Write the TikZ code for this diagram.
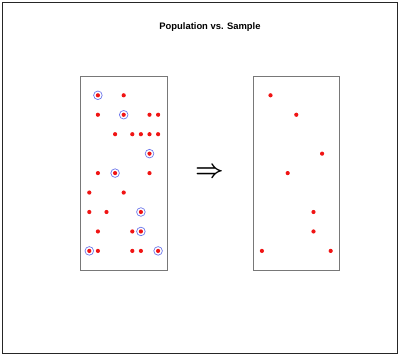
\documentclass[tikz,border=0pt]{standalone}
\usepackage{fontspec}
\setmainfont{Liberation Sans}
\usepackage{xcolor}
\usepackage{amsmath}
\usepackage{tikz}
\definecolor{dotred}{RGB}{240,20,20}
\definecolor{ringblue}{RGB}{110,120,235}
\definecolor{framegray}{RGB}{120,120,120}
\tikzset{
  reddot/.style={fill=dotred,draw=none},
  ring/.style={draw=ringblue,line width=0.7pt},
  panel/.style={draw=framegray,line width=0.8pt}
}
\begin{document}
\begin{tikzpicture}[x=1pt,y=-1pt]
             \useasboundingbox (0,0) rectangle (400,359);
             \draw[line width=1pt,draw=black!85] (2.5,2.5) rectangle (397,353);
             \node[draw=none,font=\fontsize{9.4}{11}\selectfont\bfseries] (title) at (210,27) {Population vs. Sample};

             % population and sample panels
             \draw[panel] (80.7,76) rectangle (167,270.7);
             \draw[panel] (253.3,76) rectangle (339.6,270.7);
             \node[draw=none,font=\fontsize{34}{36}\selectfont] (arrow) at (209.5,172.5) {$\boldsymbol{\Rightarrow}$};

             % population (column, row)
             \foreach \c/\r in {4/0, 1/1, 7/1, 8/1, 3/2, 5/2, 6/2, 7/2, 8/2,
                                1/4, 7/4, 0/5, 4/5, 0/6, 2/6, 1/7, 5/7, 1/8, 5/8, 6/8}
               \fill[reddot] (89.3+8.6*\c, 95.3+19.45*\r) circle (2.1);

             % sampled points: ringed on the left, copied to the right
             \foreach \c/\r in {1/0, 4/1, 7/3, 3/4, 6/6, 6/7, 0/8, 8/8} {
               \fill[reddot] (89.3+8.6*\c, 95.3+19.45*\r) circle (2.1);
               \draw[ring] (89.3+8.6*\c, 95.3+19.45*\r) circle (4.3);
               \fill[reddot] (261.9+8.6*\c, 95.3+19.45*\r) circle (2.1);
             }
             \end{tikzpicture}
\end{document}
